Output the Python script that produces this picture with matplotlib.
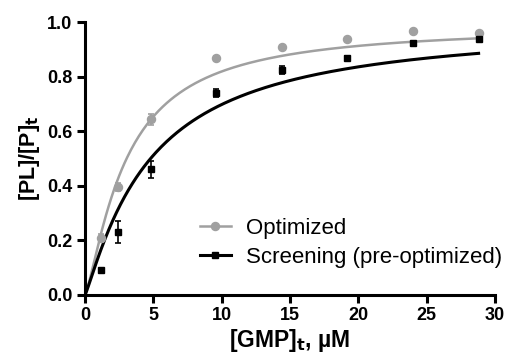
import numpy as np
import matplotlib
matplotlib.use('Agg')
import matplotlib.pyplot as plt

plt.rcParams['font.family'] = ['Liberation Sans', 'DejaVu Sans']

# measured points
gmp = [1.2, 2.4, 4.8, 9.6, 14.4, 19.2, 24.0, 28.8]

opt_y = [0.208, 0.397, 0.643, 0.868, 0.909, 0.937, 0.967, 0.958]
opt_err = [0.015, 0.015, 0.021, 0.008, 0.008, 0.005, 0.005, 0.005]

scr_y = [0.092, 0.232, 0.46, 0.739, 0.824, 0.869, 0.922, 0.938]
scr_err = [0.005, 0.04, 0.032, 0.015, 0.015, 0.005, 0.005, 0.005]

# fitted curves (Bmax, K, hill slope)
opt_fit = (0.99, 3.0, 1.3)
scr_fit = (1.0, 4.8, 1.14)

grey = '#a0a0a0'


def fit_curve(x, p):
    return p[0] * x ** p[2] / (p[1] ** p[2] + x ** p[2])


fig = plt.figure(figsize=(5.09, 3.58), dpi=100)
ax = fig.add_axes([0.167, 0.176, 0.8055, 0.7625])

xx = np.linspace(0, gmp[-1], 300)
ax.plot(xx, fit_curve(xx, opt_fit), color=grey, lw=1.8, zorder=2)
ax.plot(xx, fit_curve(xx, scr_fit), color='black', lw=2.2, zorder=2)

ax.errorbar(gmp, opt_y, yerr=opt_err, fmt='o', color=grey, ms=5.8, mec=grey,
            elinewidth=1.2, capsize=2.5, capthick=1.2, zorder=3)
ax.errorbar(gmp, scr_y, yerr=scr_err, fmt='s', color='black', ms=4.3,
            elinewidth=1.2, capsize=2.5, capthick=1.2, zorder=4)

# legend handles
ax.plot([], [], '-o', color=grey, lw=1.8, ms=5.8, label='Optimized')
ax.plot([], [], '-s', color='black', lw=2.2, ms=4.3, label='Screening (pre-optimized)')
ax.legend(loc='center left', bbox_to_anchor=(0.28, 0.19), frameon=False,
          fontsize=16, handlelength=1.4, handletextpad=0.7, labelspacing=0.35,
          borderaxespad=0.0, borderpad=0.0)

ax.set_xlim(0, 30)
ax.set_ylim(0, 1.0)
ax.set_xticks(range(0, 31, 5))
ax.set_yticks(np.arange(0, 1.01, 0.2))
ax.set_yticklabels(['0.0', '0.2', '0.4', '0.6', '0.8', '1.0'])

for s in ['top', 'right']:
    ax.spines[s].set_visible(False)
for s in ['left', 'bottom']:
    ax.spines[s].set_linewidth(2.2)
ax.tick_params(width=2.2, length=6, labelsize=13, pad=3)
for lab in ax.get_xticklabels() + ax.get_yticklabels():
    lab.set_fontweight('bold')

ax.set_xlabel('[GMP]$_\\mathbf{t}$, µM', fontsize=16.5, fontweight='bold', labelpad=2)
ax.set_ylabel('[PL]/[P]$_\\mathbf{t}$', fontsize=15.5, fontweight='bold', labelpad=4)

fig.savefig('out.png', dpi=100)
